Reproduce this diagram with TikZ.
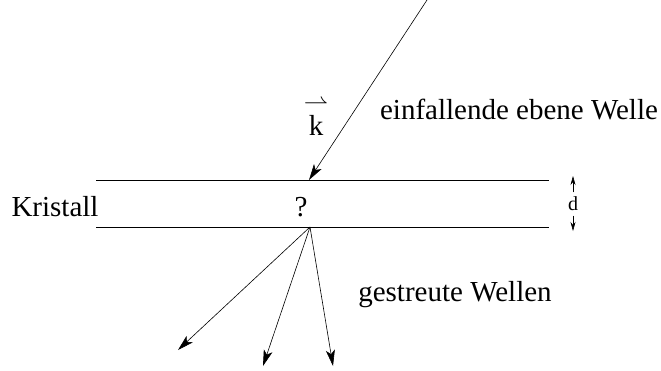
\documentclass[tikz,border=0pt]{standalone}
\usepackage{amsmath}
\usepackage{fontspec}
\setmainfont{Liberation Serif}
\usepackage{tikz}
\usetikzlibrary{positioning,arrows.meta}

\begin{document}
\begin{tikzpicture}[x=1pt,y=-1pt,font=\fontsize{29}{34}\selectfont,
    wave/.style={-{Stealth[length=16pt,width=9pt,inset=4pt]},line width=0.6pt},
    thick arrow/.style={-{Stealth[length=9pt,width=5pt]},line width=0.6pt}]
    \useasboundingbox (0,0) rectangle (661,370);
    % crystal plate
    \coordinate (tl) at (96,180);
    \coordinate (tr) at (549,180);
    \coordinate (bl) at (96,227);
    \coordinate (br) at (549,227);
    \draw[line width=0.7pt] (tl) -- (tr);
    \draw[line width=0.7pt] (bl) -- (br);
    \node (crystal) at (55,207) {Kristall};
    \node (center) at (301,207) {?};

    % incident wave
    \coordinate (src) at (427,0);
    \coordinate (hit) at (309,180);
    \draw[wave] (src) -- (hit);
    \node[inner sep=0pt] (k) at (316,118)
        {\shortstack{\fontsize{27}{27}\selectfont$\rightharpoonup$\\[2pt]k}};
    \node (incident) at (519,110) {einfallende ebene Welle};

    % thickness
    \node (d) at (573,204) {\fontsize{20}{22}\selectfont d};
    \coordinate (dtop) at (573,176);
    \coordinate (dbot) at (573,231);
    \draw[thick arrow] (d.north) ++(0,-1) -- (dtop);
    \draw[thick arrow] (d.south) ++(0,1) -- (dbot);

    % scattered waves
    \coordinate (exit) at (310,227);
    \coordinate (s1) at (178,350);
    \coordinate (s2) at (263,366);
    \coordinate (s3) at (333,366);
    \foreach \s in {s1,s2,s3}
        \draw[wave] (exit) -- (\s);
    \node (scattered) at (455,295) {gestreute Wellen};
\end{tikzpicture}
\end{document}
